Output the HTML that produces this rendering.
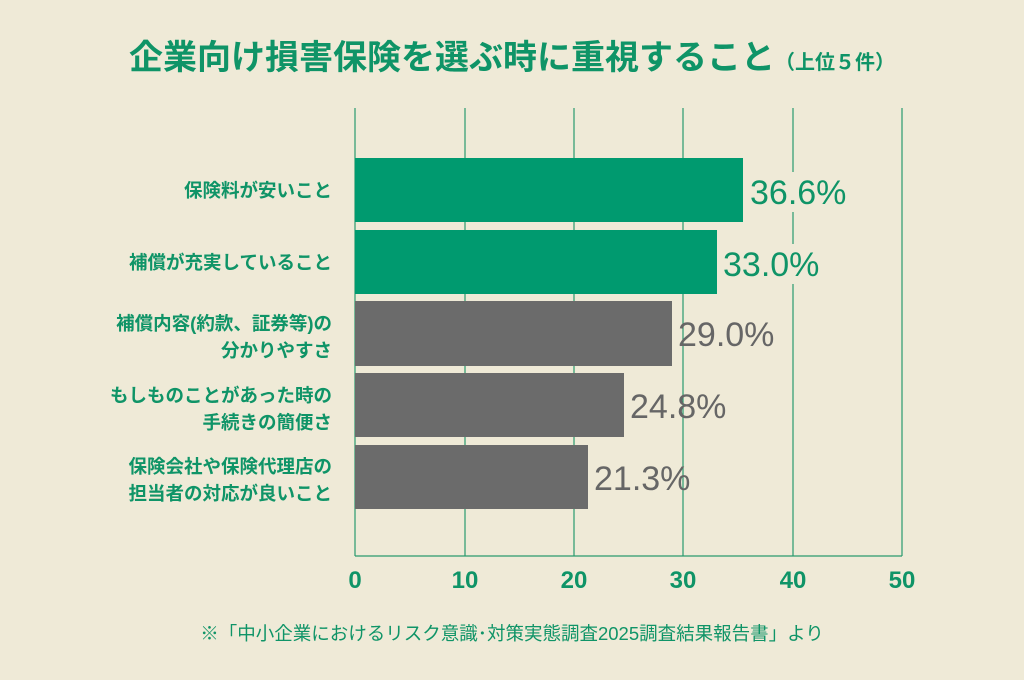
<!DOCTYPE html>
<html><head><meta charset="utf-8"><style>
html,body{margin:0;padding:0;background:#efead7;}
svg{display:block}
text{font-family:"Liberation Sans","Noto Sans CJK JP",sans-serif;}
</style></head><body>
<svg width="1024" height="680" viewBox="0 0 1024 680">
<rect width="1024" height="680" fill="#efead7"/>
<text x="512" y="69" text-anchor="middle" font-size="34" font-weight="bold" fill="#0f9467" font-family="Noto Sans CJK JP, sans-serif">企業向け損害保険を選ぶ時に重視すること<tspan font-size="20">（上位５件）</tspan></text>
<g stroke="#2a9a6e" stroke-width="1.2">
<line x1="355" y1="108" x2="355" y2="556"/>
<line x1="465" y1="108" x2="465" y2="556"/>
<line x1="574" y1="108" x2="574" y2="556"/>
<line x1="683" y1="108" x2="683" y2="556"/>
<line x1="793" y1="108" x2="793" y2="556"/>
<line x1="902" y1="108" x2="902" y2="556"/>
<line x1="355" y1="556" x2="902" y2="556"/>
</g>
<rect x="355" y="158" width="388" height="64" fill="#009a6f"/>
<rect x="355" y="230" width="362" height="64" fill="#009a6f"/>
<rect x="355" y="301" width="317" height="65" fill="#6b6b6b"/>
<rect x="355" y="373" width="269" height="64" fill="#6b6b6b"/>
<rect x="355" y="445" width="233" height="64" fill="#6b6b6b"/>
<rect x="748" y="172" width="110" height="40" fill="#efead7"/>
<rect x="722" y="244" width="110" height="40" fill="#efead7"/>
<g font-size="34">
<text x="750" y="204" fill="#0f9467">36.6%</text>
<text x="723" y="276" fill="#0f9467">33.0%</text>
<text x="678" y="346" fill="#666">29.0%</text>
<text x="630" y="418" fill="#666">24.8%</text>
<text x="594" y="490" fill="#666">21.3%</text>
</g>
<g font-size="18.5" fill="#0f9467" text-anchor="end" font-weight="bold">
<text x="332" y="197">保険料が安いこと</text>
<text x="332" y="269">補償が充実していること</text>
<text x="332" y="330">補償内容(約款、証券等)の</text>
<text x="332" y="357">分かりやすさ</text>
<text x="332" y="402">もしものことがあった時の</text>
<text x="332" y="429">手続きの簡便さ</text>
<text x="332" y="473">保険会社や保険代理店の</text>
<text x="332" y="500">担当者の対応が良いこと</text>
</g>
<g font-size="24" fill="#0f9467" text-anchor="middle" font-weight="bold">
<text x="355" y="588">0</text>
<text x="465" y="588">10</text>
<text x="574" y="588">20</text>
<text x="683" y="588">30</text>
<text x="793" y="588">40</text>
<text x="902" y="588">50</text>
</g>
<text x="512" y="640" text-anchor="middle" font-size="18.5" fill="#0f9467">※「中小企業におけるリスク意識･対策実態調査2025調査結果報告書」より</text>
</svg>
</body></html>
